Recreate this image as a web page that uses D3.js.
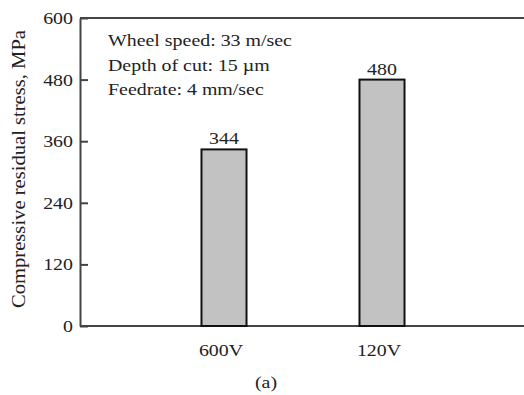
<!DOCTYPE html>
<html>
<head>
<meta charset="UTF-8">
<title>Residual stress</title>
<script src="https://cdnjs.cloudflare.com/ajax/libs/d3/7.8.5/d3.min.js"></script>
<style>
  body { margin: 0; background: #fff; }
  text { font-family: "Liberation Serif", "Times New Roman", serif; fill: #222; }
</style>
</head>
<body>
<svg width="524" height="395" id="chart"></svg>
<script>
// data
var categories = ["600V", "120V"];
var stress = [344, 480];
var yTicks = [0, 120, 240, 360, 480, 600];
var notes = ["Wheel speed: 33 m/sec", "Depth of cut: 15 \u00b5m", "Feedrate: 4 mm/sec"];

var svg = d3.select("#chart");
var mLeft = 80, mTop = 18, mBottom = 326, mRight = 540;
var stretch = 1.17, fs = 17;

var y = d3.scaleLinear().domain([0, 600]).range([mBottom, mTop]);
var x = d3.scaleBand().domain(categories).range([145, 461])
        .paddingInner(0.715).paddingOuter(0.3575);

// text drawn slightly wider than tall, like the scanned figure
function label(g, tx, ty, anchor, str) {
    return g.append("text")
        .attr("transform", "translate(" + tx + "," + ty + ") scale(" + stretch + ",1)")
        .attr("text-anchor", anchor).attr("font-size", fs).text(str);
}

// frame: top and bottom lines
svg.append("line").attr("x1", mLeft).attr("x2", mRight).attr("y1", mTop).attr("y2", mTop)
   .attr("stroke", "#444").attr("stroke-width", 2);
svg.append("line").attr("x1", mLeft).attr("x2", mRight).attr("y1", mBottom).attr("y2", mBottom)
   .attr("stroke", "#444").attr("stroke-width", 2);

// left axis, ticks pointing inward
var yAxis = svg.append("g").attr("transform", "translate(" + mLeft + ",0)")
   .call(d3.axisRight(y).tickValues(yTicks).tickSize(8).tickSizeOuter(0).tickFormat(""));
yAxis.select(".domain").attr("stroke", "#444").attr("stroke-width", 2);
yAxis.selectAll(".tick line").attr("stroke", "#444").attr("stroke-width", 2);

var tickG = svg.append("g");
yTicks.forEach(function (d) { label(tickG, mLeft - 7, y(d) + 6, "end", d); });

// bars
svg.append("g").selectAll("rect").data(stress).join("rect")
   .attr("x", function (d, i) { return x(categories[i]); })
   .attr("y", function (d) { return y(d); })
   .attr("width", x.bandwidth())
   .attr("height", function (d) { return mBottom - y(d); })
   .attr("fill", "#c2c2c2").attr("stroke", "#111").attr("stroke-width", 2);

// value labels
var valG = svg.append("g");
stress.forEach(function (d, i) {
    label(valG, x(categories[i]) + x.bandwidth() / 2, y(d) - 5, "middle", d);
});

// category labels
var catG = svg.append("g");
categories.forEach(function (d) {
    label(catG, x(d) + x.bandwidth() / 2 - 3, 356, "middle", d);
});

// notes
var noteG = svg.append("g");
notes.forEach(function (d, i) { label(noteG, 108, 46 + i * 24.5, "start", d); });

// y label
svg.append("text")
   .attr("transform", "translate(25,169) rotate(-90)")
   .attr("text-anchor", "middle").attr("font-size", 19)
   .attr("textLength", 278).attr("lengthAdjust", "spacingAndGlyphs")
   .text("Compressive residual stress, MPa");

label(svg, 266, 388, "middle", "(a)");
</script>
</body>
</html>
